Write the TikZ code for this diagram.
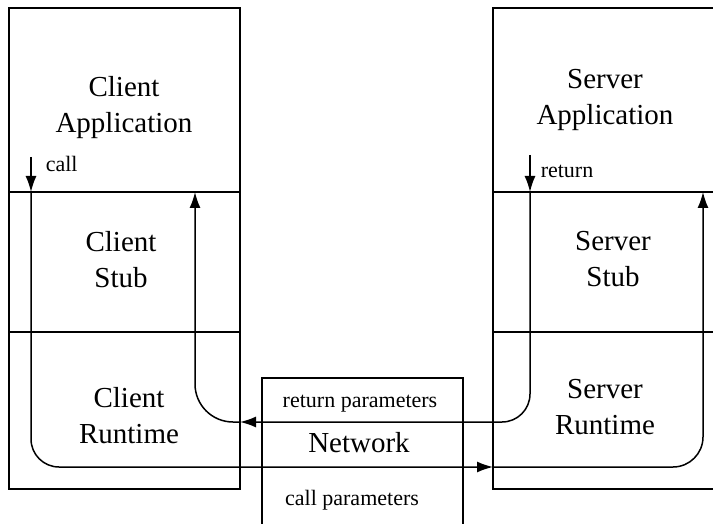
\documentclass[tikz,border=0pt]{standalone}
\usepackage{fontspec}
\setmainfont{Liberation Serif}
\usetikzlibrary{arrows.meta}

\begin{document}
\begin{tikzpicture}[x=1pt,y=-1pt,line width=1.5pt,
    arr/.style={-{Latex[length=16pt,width=11pt]}},
    layer/.style={align=center,inner sep=0pt,font=\fontsize{29}{36}\selectfont},
    lbl/.style={inner sep=0pt,font=\fontsize{22}{26}\selectfont}]
            \useasboundingbox (0,0) rectangle (713,524);
            \clip (0,0) rectangle (713,524);
            % boxes
            \draw (9,8) rectangle (240,489);
            \draw (493,8) rectangle (717,489);
            \draw (262,378) rectangle (463,540);
            \foreach \y in {192,332}
                {
                \draw (9,\y) -- (240,\y);
                \draw (493,\y) -- (717,\y);
                }
            % layer names
            \node[layer] (capp) at (124,108) {Client\\Application};
            \node[layer] (cstub) at (121,260) {Client\\Stub};
            \node[layer] (crun) at (129,416) {Client\\Runtime};
            \node[layer] (sapp) at (605,100) {Server\\Application};
            \node[layer] (sstub) at (613,259) {Server\\Stub};
            \node[layer] (srun) at (605,407) {Server\\Runtime};
            \node[layer,anchor=base] (net) at (359,452) {Network};
            \node[lbl,anchor=base] (retpar) at (360,407) {return parameters};
            \node[lbl,anchor=base] (callpar) at (352,505) {call parameters};
            \node[lbl,anchor=base west] (calllbl) at (45,172) {call};
            \node[lbl,anchor=base west] (retlbl) at (540,178) {return};
            % call path
            \coordinate (callA) at (31,157);
            \coordinate (callB) at (31,192);
            \coordinate (callC) at (31,467);
            \coordinate (callD) at (493,467);
            \coordinate (callE) at (703,467);
            \coordinate (callF) at (703,192);
            \draw[arr] (callA) -- (callB);
            \draw[arr,rounded corners=28] (callB) -- (callC) -- (callD);
            \draw[arr,rounded corners=30] (callD) -- (callE) -- (callF);
            % return path
            \coordinate (retA) at (530,155);
            \coordinate (retB) at (530,192);
            \coordinate (retC) at (530,422);
            \coordinate (retD) at (240,422);
            \coordinate (retE) at (195,422);
            \coordinate (retF) at (195,192);
            \draw[arr] (retA) -- (retB);
            \draw[arr,rounded corners=28] (retB) -- (retC) -- (retD);
            \draw[arr,rounded corners=38] (retD) -- (retE) -- (retF);
\end{tikzpicture}
\end{document}
